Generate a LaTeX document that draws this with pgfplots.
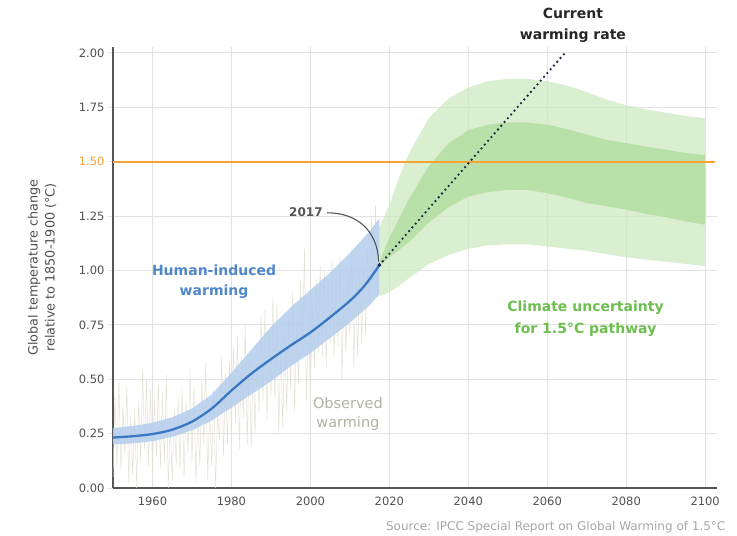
\documentclass[border=0pt]{standalone}
\usepackage{pgfplots}
\pgfplotsset{compat=1.18}
\usepgfplotslibrary{fillbetween}
\usepackage{fontspec}
\setmainfont{DejaVu Sans}
\definecolor{axisgray}{RGB}{85,85,85}
\definecolor{gridgray}{RGB}{226,226,226}
\definecolor{labelgray}{RGB}{80,80,80}
\definecolor{limitorange}{RGB}{247,162,52}
\definecolor{lgreen}{RGB}{206,234,192}
\definecolor{dgreen}{RGB}{174,219,155}
\definecolor{bband}{RGB}{180,205,236}
\definecolor{bline}{RGB}{59,120,195}
\definecolor{htext}{RGB}{80,135,200}
\definecolor{gtext}{RGB}{108,190,78}
\definecolor{otext}{RGB}{180,176,164}
\definecolor{obs}{RGB}{228,225,212}
\definecolor{navy}{RGB}{30,42,74}
\definecolor{srcgray}{RGB}{165,165,165}

\pgfplotstableread{
x lo hi
1950 0.200 0.275
1955 0.205 0.285
1960 0.215 0.300
1965 0.235 0.325
1970 0.265 0.365
1975 0.310 0.430
1980 0.370 0.530
1985 0.430 0.635
1990 0.490 0.740
1995 0.560 0.830
2000 0.620 0.910
2005 0.690 0.990
2010 0.760 1.080
2015 0.840 1.180
2017.5 0.890 1.240
}\blueband

\pgfplotstableread{
x y
1950 0.232
1955 0.238
1960 0.248
1965 0.268
1970 0.305
1975 0.365
1980 0.448
1985 0.525
1990 0.592
1995 0.655
2000 0.715
2005 0.785
2010 0.860
2013 0.915
2015 0.960
2017.5 1.025
}\humanline

\pgfplotstableread{
x lo hi
2017.5 0.88 1.20
2020 0.90 1.30
2022.5 0.93 1.43
2025 0.965 1.54
2030 1.03 1.70
2035 1.07 1.79
2040 1.10 1.84
2045 1.115 1.87
2050 1.12 1.88
2055 1.12 1.88
2060 1.11 1.87
2065 1.10 1.85
2070 1.09 1.82
2075 1.075 1.785
2080 1.06 1.76
2085 1.05 1.74
2090 1.04 1.725
2095 1.03 1.71
2100 1.02 1.70
}\outerband

\pgfplotstableread{
x lo hi
2017.5 1.02 1.04
2020 1.06 1.15
2025 1.13 1.33
2030 1.22 1.48
2035 1.29 1.585
2040 1.34 1.645
2045 1.36 1.67
2050 1.37 1.68
2055 1.37 1.68
2060 1.355 1.67
2065 1.335 1.65
2070 1.31 1.625
2075 1.295 1.60
2080 1.28 1.585
2085 1.26 1.57
2090 1.245 1.555
2095 1.225 1.54
2100 1.21 1.53
}\innerband

\begin{document}
\begin{tikzpicture}
\begin{axis}[
  at={(0,0)}, anchor=south west,
  scale only axis, width=604pt, height=441pt,
  xmin=1950, xmax=2103, ymin=0, ymax=2.027,
  axis x line*=bottom, axis y line*=left,
  axis line style={draw=axisgray, line width=1.6pt},
  xtick={1960,1980,2000,2020,2040,2060,2080,2100},
  xticklabels={1960,1980,2000,2020,2040,2060,2080,2100},
  ytick={0,0.25,0.5,0.75,1,1.25,1.5,1.75,2},
  yticklabels={0.00,0.25,0.50,0.75,1.00,1.25,\textcolor{limitorange}{1.50},1.75,2.00},
  grid=major, grid style={draw=gridgray, line width=0.8pt},
  tick align=outside, major tick length=5pt,
  ytick style={draw=gridgray, line width=0.8pt},
  xtick style={draw=none},
  ticklabel style={font=\fontsize{11.5}{13}\selectfont, text=labelgray},
  clip=false,
]
% climate uncertainty bands
\addplot[draw=none, name path=oA, forget plot] table[x=x,y=lo]{\outerband};
\addplot[draw=none, name path=oB, forget plot] table[x=x,y=hi]{\outerband};
\addplot[fill=lgreen, fill opacity=0.75, draw=none] fill between[of=oA and oB];
\addplot[draw=none, name path=iA, forget plot] table[x=x,y=lo]{\innerband};
\addplot[draw=none, name path=iB, forget plot] table[x=x,y=hi]{\innerband};
\addplot[fill=dgreen, fill opacity=0.75, draw=none] fill between[of=iA and iB];
% observed warming
\addplot[draw=obs, line width=0.5pt, on layer=pre main] coordinates {
(1950.0,0.05) (1950.5,0.42) (1951.0,0.10) (1951.5,0.50) (1952.0,0.08) (1952.5,0.38)
(1953.0,0.15) (1953.5,0.47) (1954.0,0.02) (1954.5,0.33) (1955.0,0.06) (1955.5,0.36)
(1956.0,0.00) (1956.5,0.40) (1957.0,0.12) (1957.5,0.55) (1958.0,0.18) (1958.5,0.50)
(1959.0,0.10) (1959.5,0.45) (1960.0,0.08) (1960.5,0.41) (1961.0,0.14) (1961.5,0.48)
(1962.0,0.09) (1962.5,0.44) (1963.0,0.12) (1963.5,0.52) (1964.0,0.00) (1964.5,0.30)
(1965.0,0.03) (1965.5,0.37) (1966.0,0.10) (1966.5,0.42) (1967.0,0.08) (1967.5,0.46)
(1968.0,0.05) (1968.5,0.40) (1969.0,0.16) (1969.5,0.55) (1970.0,0.12) (1970.5,0.47)
(1971.0,0.02) (1971.5,0.36) (1972.0,0.10) (1972.5,0.50) (1973.0,0.20) (1973.5,0.58)
(1974.0,0.04) (1974.5,0.38) (1975.0,0.10) (1975.5,0.45) (1976.0,0.00) (1976.5,0.35)
(1977.0,0.22) (1977.5,0.60) (1978.0,0.15) (1978.5,0.52) (1979.0,0.20) (1979.5,0.58)
(1980.0,0.25) (1980.5,0.65) (1981.0,0.30) (1981.5,0.70) (1982.0,0.18) (1982.5,0.60)
(1983.0,0.32) (1983.5,0.75) (1984.0,0.20) (1984.5,0.60) (1985.0,0.18) (1985.5,0.58)
(1986.0,0.25) (1986.5,0.66) (1987.0,0.35) (1987.5,0.80) (1988.0,0.40) (1988.5,0.82)
(1989.0,0.30) (1989.5,0.72) (1990.0,0.42) (1990.5,0.88) (1991.0,0.40) (1991.5,0.84)
(1992.0,0.25) (1992.5,0.66) (1993.0,0.28) (1993.5,0.70) (1994.0,0.35) (1994.5,0.78)
(1995.0,0.45) (1995.5,0.90) (1996.0,0.35) (1996.5,0.76) (1997.0,0.48) (1997.5,0.95)
(1998.0,0.62) (1998.5,1.10) (1999.0,0.40) (1999.5,0.82) (2000.0,0.42) (2000.5,0.85)
(2001.0,0.55) (2001.5,0.96) (2002.0,0.62) (2002.5,1.02) (2003.0,0.60) (2003.5,1.00)
(2004.0,0.55) (2004.5,0.95) (2005.0,0.66) (2005.5,1.05) (2006.0,0.60) (2006.5,1.00)
(2007.0,0.65) (2007.5,1.06) (2008.0,0.50) (2008.5,0.92) (2009.0,0.62) (2009.5,1.02)
(2010.0,0.70) (2010.5,1.10) (2011.0,0.55) (2011.5,0.96) (2012.0,0.60) (2012.5,1.00)
(2013.0,0.66) (2013.5,1.05) (2014.0,0.70) (2014.5,1.10) (2015.0,0.85) (2015.5,1.25)
(2016.0,0.95) (2016.5,1.30) (2017.0,0.88) (2017.5,1.20)
};
% human-induced band and line
\addplot[draw=none, name path=bA, forget plot] table[x=x,y=lo]{\blueband};
\addplot[draw=none, name path=bB, forget plot] table[x=x,y=hi]{\blueband};
\addplot[fill=bband, fill opacity=0.85, draw=none] fill between[of=bA and bB];
\addplot[draw=bline, line width=2.3pt, smooth] table[x=x,y=y]{\humanline};
% 1.5 degree line
\addplot[draw=limitorange, line width=1.8pt] coordinates {(1950,1.5) (2102.5,1.5)};
% current warming rate
\addplot[draw=navy, line width=2.6pt, line cap=round, dash pattern=on 0pt off 5pt] coordinates {(2017.5,1.025) (2064.5,2.0)};
\addplot[navy, only marks, mark=*, mark size=1.7pt] coordinates {(2017.5,1.025)};
% annotations
\draw[axisgray, line width=1.1pt] (axis cs:2004.2,1.265) to[out=0,in=92,looseness=1.1] (axis cs:2017.3,1.04);
\node[font=\bfseries\fontsize{12}{14}\selectfont, text=axisgray, anchor=east] at (axis cs:2004.0,1.266) {2017};
\node[font=\bfseries\fontsize{14}{20}\selectfont, text=htext, align=center] at (axis cs:1975.6,0.947) {Human-induced\\warming};
\node[font=\bfseries\fontsize{14}{22}\selectfont, text=gtext, align=center] at (axis cs:2069.7,0.78) {Climate uncertainty\\for 1.5°C pathway};
\node[font=\fontsize{14.5}{19}\selectfont, text=otext, align=center] at (axis cs:2009.5,0.338) {Observed\\warming};
\node[font=\bfseries\fontsize{14}{21}\selectfont, text=black!85, align=center] at (axis cs:2066.5,2.125) {Current\\warming rate};
\node[font=\fontsize{12.8}{17}\selectfont, text=labelgray, align=center, rotate=90] at (rel axis cs:-0.1175,0.5) {Global temperature change\\relative to 1850-1900 (°C)};
\node[font=\fontsize{12}{14}\selectfont, text=srcgray, anchor=east] at (axis cs:2106.0,-0.179) {Source: IPCC Special Report on Global Warming of 1.5°C};
\end{axis}
\pgfresetboundingbox
\useasboundingbox (-113pt,-48pt) rectangle (624pt,488pt);
\end{tikzpicture}
\end{document}
